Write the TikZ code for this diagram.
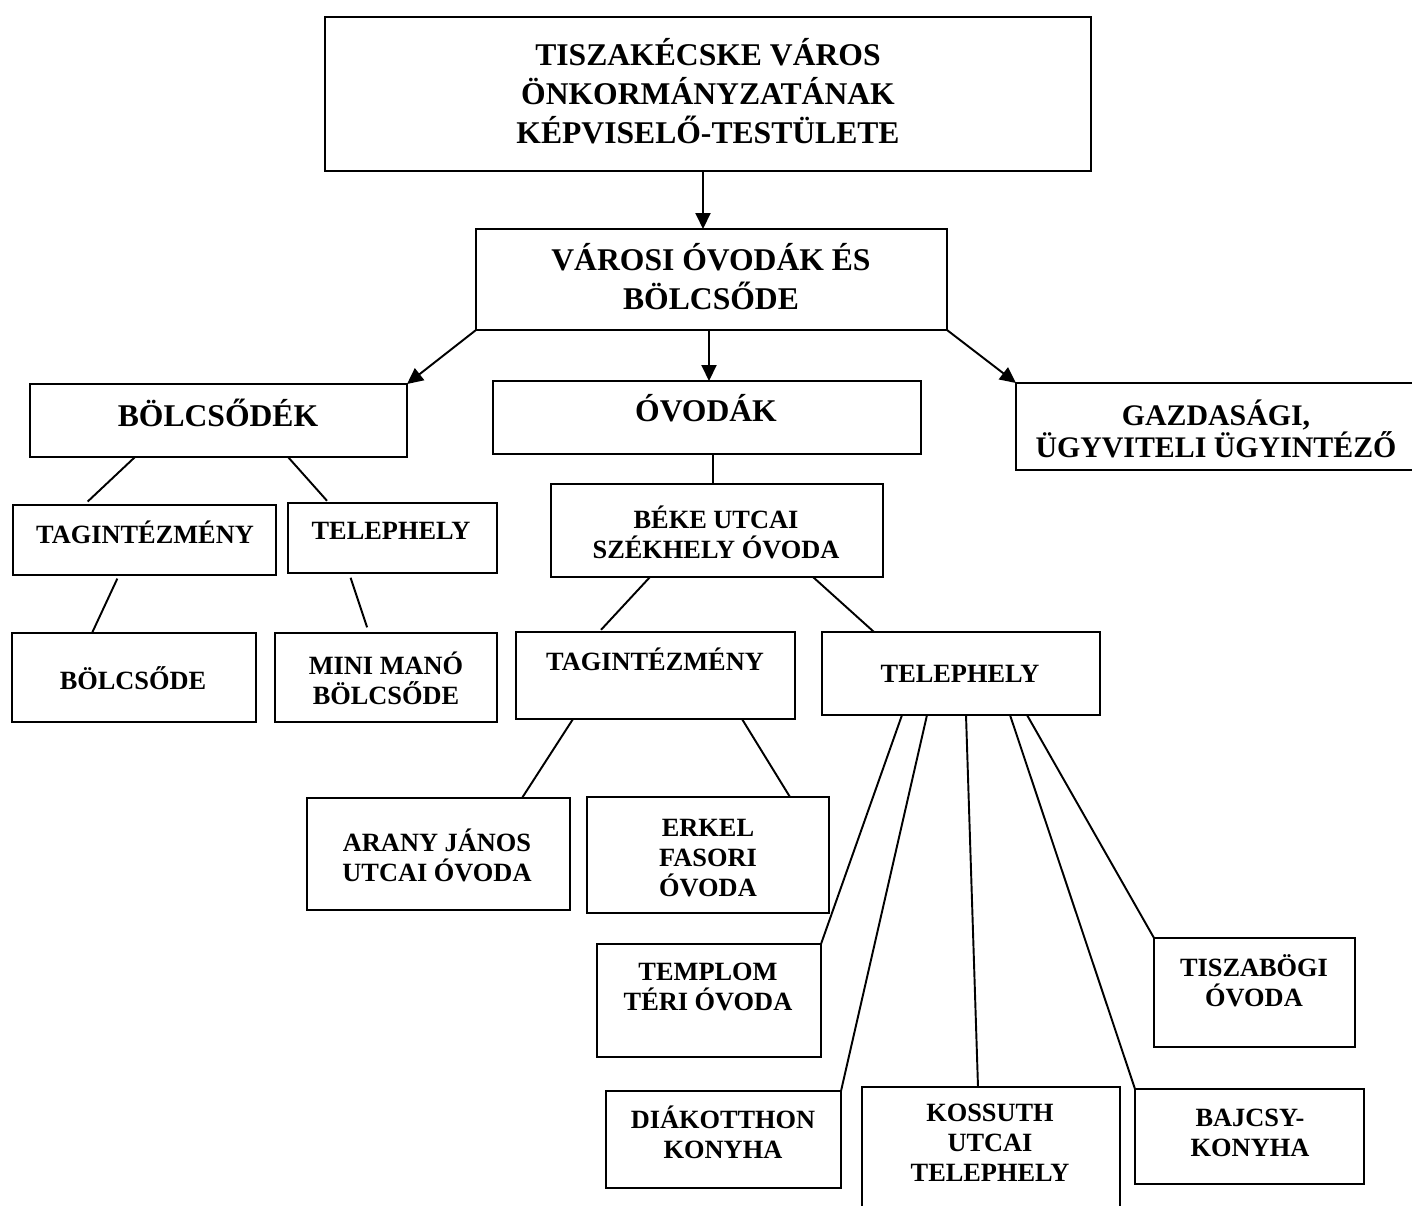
\documentclass[tikz,border=0pt]{standalone}
\usepackage{fontspec}
\setmainfont{Liberation Serif}
\usetikzlibrary{arrows.meta}
\tikzset{
  box/.style={draw, line width=1.6pt, inner sep=0pt, outer sep=0pt, rectangle},
  big/.style={align=center, font=\bfseries\fontsize{18}{22.2}\selectfont},
  mid/.style={align=center, font=\bfseries\fontsize{17}{18.4}\selectfont},
  small/.style={align=center, font=\bfseries\fontsize{15}{17}\selectfont},
  conn/.style={line width=1.1pt},
  arr/.style={line width=1.1pt, -{Triangle[length=0.32cm,width=0.3cm]}}
}
\newcommand\mkbox[5]{\node[box, minimum width={(#4-#2)*0.02cm}, minimum height={(#5-#3)*0.02cm}] (#1) at ({(#2+#4)/2},{(#3+#5)/2}) {};}
\begin{document}
\begin{tikzpicture}[x=0.02cm, y=-0.02cm]
\useasboundingbox (0,0) rectangle (1412,1205);
% boxes
\mkbox{top}{325}{17}{1091}{171}
\mkbox{varosi}{476}{229}{947}{330}
\mkbox{bolc}{30}{384}{407}{457}
\mkbox{ovodak}{493}{381}{921}{454}
\mkbox{gazd}{1016}{383}{1430}{470}
\mkbox{tagL}{13}{505}{276}{575}
\mkbox{telL}{288}{503}{497}{573}
\mkbox{beke}{551}{484}{883}{577}
\mkbox{bolcsode}{12}{633}{256}{722}
\mkbox{mini}{275}{633}{497}{722}
\mkbox{tagM}{516}{632}{795}{719}
\mkbox{telM}{822}{632}{1100}{715}
\mkbox{arany}{307}{798}{570}{910}
\mkbox{erkel}{587}{797}{829}{913}
\mkbox{templom}{597}{944}{821}{1057}
\mkbox{tiszab}{1154}{938}{1355}{1047}
\mkbox{diak}{606}{1091}{841}{1188}
\mkbox{kossuth}{862}{1087}{1120}{1225}
\mkbox{bajcsy}{1135}{1089}{1364}{1184}
% texts
\node[big] (ttop) at (708,91) {TISZAKÉCSKE VÁROS\\ÖNKORMÁNYZATÁNAK\\KÉPVISELŐ-TESTÜLETE};
\node[big] (tvarosi) at (711,277) {VÁROSI ÓVODÁK ÉS\\BÖLCSŐDE};
\node[big] (tbolc) at (218,413) {BÖLCSŐDÉK};
\node[big] (tovodak) at (706,408) {ÓVODÁK};
\node[mid] (tgazd) at (1216,429) {GAZDASÁGI,\\ÜGYVITELI ÜGYINTÉZŐ};
\node[small] (ttagL) at (145,532) {TAGINTÉZMÉNY};
\node[small] (ttelL) at (391,531) {TELEPHELY};
\node[small] (tbeke) at (716,532) {BÉKE UTCAI\\SZÉKHELY ÓVODA};
\node[small] (tbolcsode) at (133,678) {BÖLCSŐDE};
\node[small] (tmini) at (386,678) {MINI MANÓ\\BÖLCSŐDE};
\node[small] (ttagM) at (655,659) {TAGINTÉZMÉNY};
\node[small] (ttelM) at (960,674) {TELEPHELY};
\node[small] (tarany) at (437,855) {ARANY JÁNOS\\UTCAI ÓVODA};
\node[small] (terkel) at (708,858) {ERKEL\\FASORI\\ÓVODA};
\node[small] (ttemplom) at (708,987) {TEMPLOM\\TÉRI ÓVODA};
\node[small] (ttiszab) at (1254,981) {TISZABÖGI\\ÓVODA};
\node[small] (tdiak) at (723,1132) {DIÁKOTTHON\\KONYHA};
\node[small] (tkossuth) at (990,1143) {KOSSUTH\\UTCAI\\TELEPHELY};
\node[small] (tbajcsy) at (1250,1133) {BAJCSY-\\KONYHA};
% arrows
\draw[arr] (703,0 |- top.south) -- (703,0 |- varosi.north);
\draw[arr] (varosi.south west) -- (bolc.north east);
\draw[arr] (709,0 |- varosi.south) -- (709,0 |- ovodak.north);
\draw[arr] (varosi.south east) -- (gazd.north west);
% connectors
\draw[conn, shorten >=0.1cm] (135,0 |- bolc.south) -- (84,0 |- tagL.north);
\draw[conn, shorten >=0.06cm] (288,0 |- bolc.south) -- (329,0 |- telL.north);
\draw[conn, shorten <=0.08cm] (119,0 |- tagL.south) -- (92,0 |- bolcsode.north);
\draw[conn, shorten <=0.1cm, shorten >=0.12cm] (349,0 |- telL.south) -- (369,0 |- mini.north);
\draw[conn] (713,0 |- ovodak.south) -- (713,0 |- beke.north);
\draw[conn, shorten >=0.06cm] (650,0 |- beke.south) -- (599,0 |- tagM.north);
\draw[conn] (813,0 |- beke.south) -- (874,0 |- telM.north);
\draw[conn] (573,0 |- tagM.south) -- (522,0 |- arany.north);
\draw[conn] (742,0 |- tagM.south) -- (790,0 |- erkel.north);
\draw[conn] (902,0 |- telM.south) -- (templom.north east);
\draw[conn] (927,0 |- telM.south) -- (diak.north east);
\draw[conn] (966,0 |- telM.south) -- (978,0 |- kossuth.north);
\draw[conn] (1010,0 |- telM.south) -- (bajcsy.north west);
\draw[conn] (1027,0 |- telM.south) -- (tiszab.north west);
\end{tikzpicture}
\end{document}
